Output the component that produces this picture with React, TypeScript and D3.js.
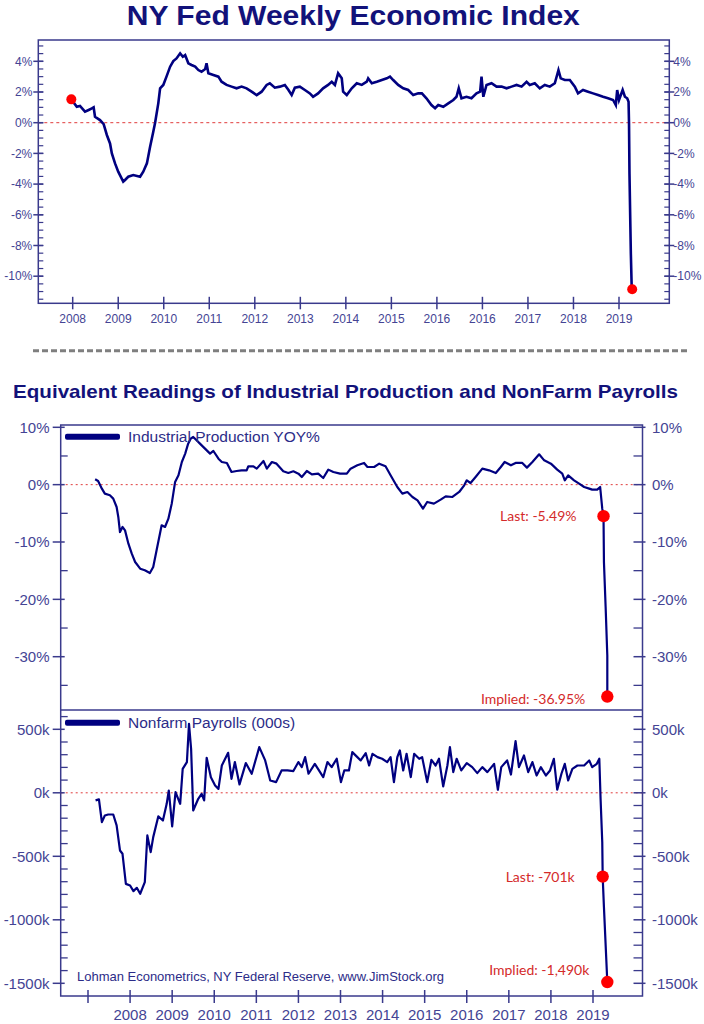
import React from "react";
import * as d3 from "d3";

// NY Fed Weekly Economic Index, [year, %]
const weiSeries: [number, number][] = [
  [2007.97, 1.52], [2008.09, 1.04], [2008.16, 1.09], [2008.27, 0.72], [2008.35, 0.83],
  [2008.42, 0.93], [2008.46, 1.0], [2008.49, 0.39], [2008.6, 0.17], [2008.68, -0.09],
  [2008.75, -0.8], [2008.82, -1.35], [2008.86, -2.0], [2008.93, -2.65], [2009.0, -3.19],
  [2009.11, -3.84], [2009.15, -3.73], [2009.22, -3.52], [2009.33, -3.41], [2009.48, -3.52],
  [2009.55, -3.19], [2009.63, -2.65], [2009.7, -1.56], [2009.77, -0.59], [2009.81, 0],
  [2009.88, 1.26], [2009.92, 2.24], [2009.99, 2.46], [2010.06, 3.0], [2010.14, 3.65],
  [2010.21, 4.02], [2010.28, 4.19], [2010.36, 4.52], [2010.42, 4.3], [2010.47, 4.41],
  [2010.54, 3.87], [2010.61, 3.76], [2010.69, 3.65], [2010.76, 3.43], [2010.83, 3.32],
  [2010.91, 3.5], [2010.94, 3.87], [2010.98, 3.22], [2011.09, 3.11], [2011.2, 3.0],
  [2011.27, 2.67], [2011.38, 2.46], [2011.49, 2.35], [2011.6, 2.24], [2011.71, 2.35],
  [2011.82, 2.24], [2011.93, 2.02], [2012.04, 1.8], [2012.15, 2.02], [2012.26, 2.46],
  [2012.33, 2.57], [2012.44, 2.28], [2012.55, 2.35], [2012.66, 2.46], [2012.74, 2.13],
  [2012.81, 1.8], [2012.88, 2.28], [2012.99, 2.35], [2013.1, 2.13], [2013.21, 1.91],
  [2013.28, 1.69], [2013.39, 1.91], [2013.5, 2.24], [2013.61, 2.46], [2013.69, 2.67],
  [2013.76, 2.46], [2013.83, 3.22], [2013.91, 2.89], [2013.94, 2.02], [2014.02, 1.8],
  [2014.13, 2.24], [2014.24, 2.57], [2014.35, 2.46], [2014.46, 2.67], [2014.49, 2.89],
  [2014.57, 2.57], [2014.68, 2.67], [2014.79, 2.78], [2014.9, 2.89], [2014.97, 3.0],
  [2015.04, 2.78], [2015.15, 2.46], [2015.26, 2.24], [2015.37, 2.13], [2015.48, 1.8],
  [2015.59, 1.91], [2015.67, 1.91], [2015.77, 1.59], [2015.88, 1.15], [2015.96, 0.94],
  [2016.03, 1.15], [2016.14, 1.04], [2016.25, 1.26], [2016.36, 1.48], [2016.43, 1.69],
  [2016.48, 2.24], [2016.54, 1.59], [2016.65, 1.69], [2016.76, 1.59], [2016.87, 1.91],
  [2016.95, 2.02], [2016.98, 3.0], [2017.02, 1.69], [2017.09, 2.46], [2017.2, 2.57],
  [2017.31, 2.35], [2017.42, 2.35], [2017.53, 2.24], [2017.64, 2.35], [2017.75, 2.46],
  [2017.86, 2.35], [2017.97, 2.67], [2018.04, 2.46], [2018.15, 2.57], [2018.26, 2.24],
  [2018.37, 2.46], [2018.48, 2.35], [2018.59, 2.57], [2018.67, 3.43], [2018.72, 2.89],
  [2018.81, 2.78], [2018.92, 2.78], [2019.03, 2.35], [2019.1, 1.91], [2019.21, 2.13],
  [2019.32, 2.02], [2019.43, 1.91], [2019.54, 1.8], [2019.65, 1.69], [2019.76, 1.59],
  [2019.87, 1.48], [2019.93, 1.15], [2019.96, 2.13], [2020.0, 1.48], [2020.08, 2.13],
  [2020.13, 1.69], [2020.18, 1.59], [2020.21, 1.37], [2020.22, -0.04], [2020.23, -3.3],
  [2020.25, -6.8], [2020.26, -8.5], [2020.28, -10.85],
];
const weiDots: [number, number][] = [
  [2007.97, 1.52],
  [2020.29, -10.85],
];
const weiYTicks = [4, 2, 0, -2, -4, -6, -8, -10];
const weiXTicks = [2008, 2009, 2010, 2011, 2012, 2013, 2014, 2015, 2016, 2017, 2018, 2019, 2020];
const weiXLabels = ["2008", "2009", "2010", "2011", "2012", "2013", "2014", "2015", "2016", "2016", "2017", "2018", "2019"];

// Industrial Production YOY%, [year, %]
const ipSeries: [number, number][] = [
  [2007.17, 0.93], [2007.24, 0.64], [2007.33, -0.7], [2007.4, -1.57], [2007.52, -1.86],
  [2007.6, -2.44], [2007.68, -3.9], [2007.72, -5.64], [2007.76, -8.26], [2007.82, -7.38],
  [2007.88, -7.97], [2007.96, -10.29], [2008.04, -12.03], [2008.12, -13.49], [2008.24, -14.65],
  [2008.35, -14.94], [2008.47, -15.41], [2008.55, -14.36], [2008.63, -11.45], [2008.75, -7.09],
  [2008.83, -7.38], [2008.91, -5.93], [2008.99, -3.31], [2009.07, 0.47], [2009.15, 1.63],
  [2009.23, 3.95], [2009.31, 5.41], [2009.38, 7.15], [2009.44, 8.02], [2009.5, 8.31],
  [2009.58, 7.73], [2009.66, 7.15], [2009.78, 6.28], [2009.9, 5.41], [2009.98, 5.87],
  [2010.1, 4.53], [2010.18, 3.95], [2010.3, 3.78], [2010.41, 2.21], [2010.53, 2.38],
  [2010.65, 2.5], [2010.77, 2.5], [2010.81, 3.2], [2010.93, 3.2], [2011.01, 2.79],
  [2011.17, 4.13], [2011.25, 2.79], [2011.37, 3.95], [2011.48, 3.66], [2011.64, 2.33],
  [2011.76, 2.03], [2011.88, 2.33], [2012.0, 1.92], [2012.08, 1.34], [2012.2, 2.38],
  [2012.32, 1.8], [2012.47, 1.92], [2012.59, 1.16], [2012.71, 2.62], [2012.83, 2.21],
  [2012.99, 1.92], [2013.15, 1.92], [2013.24, 2.79], [2013.4, 3.37], [2013.56, 3.78],
  [2013.64, 3.08], [2013.8, 3.08], [2013.92, 3.66], [2014.07, 3.2], [2014.19, 1.63],
  [2014.35, -0.41], [2014.47, -1.57], [2014.59, -1.28], [2014.71, -2.15], [2014.83, -2.73],
  [2014.96, -4.19], [2015.06, -3.02], [2015.22, -3.31], [2015.38, -2.62], [2015.5, -2.03],
  [2015.66, -2.15], [2015.82, -1.28], [2015.94, -0.12], [2016.0, 0.76], [2016.09, 0.29],
  [2016.21, 1.34], [2016.37, 2.79], [2016.53, 2.5], [2016.69, 2.03], [2016.81, 3.08],
  [2016.9, 3.95], [2017.05, 3.37], [2017.16, 3.78], [2017.32, 3.78], [2017.43, 2.97],
  [2017.56, 3.95], [2017.72, 5.29], [2017.84, 4.24], [2018.0, 3.66], [2018.15, 2.62],
  [2018.27, 1.92], [2018.33, 0.76], [2018.41, 1.63], [2018.55, 0.76], [2018.67, 0.17],
  [2018.79, -0.41], [2018.91, -0.7], [2018.98, -0.87], [2019.1, -0.87], [2019.17, -0.41],
  [2019.22, -4.19], [2019.25, -5.49], [2019.26, -13.49], [2019.3, -21.3], [2019.34, -29.8],
  [2019.34, -36.95],
];
const ipDots = [
  { year: 2019.25, value: -5.49, label: "Last: -5.49%" },
  { year: 2019.34, value: -36.95, label: "Implied: -36.95%" },
];
const ipYTicks = [10, 0, -10, -20, -30];

// Nonfarm Payrolls, [year, thousands]
const nfpSeries: [number, number][] = [
  [2007.18, -60], [2007.26, -52], [2007.33, -231], [2007.4, -179], [2007.48, -171],
  [2007.6, -171], [2007.68, -257], [2007.76, -454], [2007.82, -480], [2007.9, -717],
  [2008.0, -730], [2008.08, -774], [2008.16, -748], [2008.24, -795], [2008.35, -704],
  [2008.41, -336], [2008.49, -467], [2008.55, -349], [2008.67, -186], [2008.78, -218],
  [2008.87, -87], [2008.92, 18], [2009.0, -265], [2009.08, 5], [2009.19, -87],
  [2009.25, 189], [2009.35, 242], [2009.4, 543], [2009.45, 347], [2009.5, -139],
  [2009.62, -47], [2009.7, -8], [2009.76, -60], [2009.82, 276], [2009.92, 123],
  [2010.02, 58], [2010.1, 31], [2010.18, 215], [2010.33, 315], [2010.41, 110],
  [2010.49, 242], [2010.6, 66], [2010.75, 234], [2010.89, 150], [2011.07, 360],
  [2011.21, 255], [2011.33, 97], [2011.47, 84], [2011.6, 176], [2011.74, 176],
  [2011.88, 171], [2012.0, 242], [2012.08, 202], [2012.16, 281], [2012.24, 150],
  [2012.39, 228], [2012.59, 123], [2012.69, 242], [2012.79, 202], [2012.91, 268],
  [2013.01, 84], [2013.09, 176], [2013.2, 176], [2013.28, 320], [2013.4, 281],
  [2013.48, 255], [2013.6, 312], [2013.68, 215], [2013.76, 307], [2013.88, 281],
  [2013.99, 268], [2014.11, 242], [2014.19, 281], [2014.27, 84], [2014.35, 281],
  [2014.41, 333], [2014.49, 176], [2014.57, 307], [2014.67, 123], [2014.75, 307],
  [2014.87, 268], [2014.94, 281], [2015.06, 84], [2015.16, 260], [2015.26, 215],
  [2015.34, 268], [2015.44, 50], [2015.54, 215], [2015.6, 360], [2015.68, 163],
  [2015.76, 268], [2015.87, 176], [2016.0, 234], [2016.13, 202], [2016.25, 155],
  [2016.37, 202], [2016.49, 163], [2016.65, 228], [2016.74, 24], [2016.82, 202],
  [2016.96, 255], [2017.05, 144], [2017.16, 407], [2017.24, 202], [2017.36, 294],
  [2017.46, 163], [2017.56, 242], [2017.66, 136], [2017.76, 202], [2017.88, 136],
  [2017.98, 176], [2018.07, 268], [2018.15, 24], [2018.25, 150], [2018.33, 228],
  [2018.41, 97], [2018.51, 189], [2018.63, 215], [2018.79, 215], [2018.91, 255],
  [2018.98, 202], [2019.09, 228], [2019.15, 268], [2019.18, -47], [2019.22, -388],
  [2019.23, -660], [2019.26, -900], [2019.34, -1490],
];
const nfpDots = [
  { year: 2019.23, value: -660, label: "Last: -701k" },
  { year: 2019.34, value: -1490, label: "Implied: -1,490k" },
];
const nfpYTicks = [500, 0, -500, -1000, -1500];

const panelXTicks = [2007, 2008, 2009, 2010, 2011, 2012, 2013, 2014, 2015, 2016, 2017, 2018, 2019];
const panelXLabels = ["", "2008", "2009", "2010", "2011", "2012", "2013", "2014", "2015", "2016", "2017", "2018", "2019"];

const NAVY = "#000080";
const AXIS = "#3a3a8c";
const TICK_TEXT = "#444494";
const RED_LINE = "#e03c3c";
const RED_TEXT = "#d42a2a";
const FONT = "'Liberation Sans', Arial, sans-serif";

export default function App() {
  // top chart geometry
  const top = { left: 38.3, right: 669.3, top: 40, bottom: 303.3 };
  const xTop = d3.scaleLinear().domain([2008, 2020]).range([72.7, 619]);
  const yTop = d3.scaleLinear().domain([-10, 4]).range([276.2, 61.3]);
  const topMinor = d3.range(-11.5, 5.01, 0.5).filter((v) => yTop(v) <= top.bottom && yTop(v) >= top.top);

  // lower panels
  const pn = { left: 60.7, right: 642.5, top: 425, mid: 710, bottom: 996 };
  const xP = d3.scaleLinear().domain([2007, 2019]).range([88, 593]);
  const yIp = d3.scaleLinear().domain([-30, 10]).range([656.7, 427.3]);
  const yNfp = d3.scaleLinear().domain([-1500, 500]).range([983.3, 729.3]);
  const ipMinor = d3.range(-35, 10.01, 5).filter((v) => !ipYTicks.includes(v));
  const nfpMinor = d3.range(-1500, 600.01, 100).filter((v) => !nfpYTicks.includes(v));

  const weiLine = d3.line<[number, number]>().x((d) => xTop(d[0])).y((d) => yTop(d[1]));
  const ipLine = d3.line<[number, number]>().x((d) => xP(d[0])).y((d) => yIp(d[1]));
  const nfpLine = d3.line<[number, number]>().x((d) => xP(d[0])).y((d) => yNfp(d[1]));

  const fmtK = (v: number) => `${v}k`;

  return (
    <div style={{ position: "absolute", left: 0, top: 0 }}>
      <svg width={704} height={1024} style={{ display: "block", background: "#fff" }} fontFamily={FONT}>
        {/* Top title */}
        <text x={353.3} y={25} textAnchor="middle" fontSize={28} fontWeight="bold" fill="#12127a"
          textLength={453} lengthAdjust="spacingAndGlyphs">
          NY Fed Weekly Economic Index
        </text>

        {/* Top chart frame */}
        <rect x={top.left} y={top.top} width={top.right - top.left} height={top.bottom - top.top}
          fill="none" stroke={AXIS} strokeWidth={1.5} />
        <line x1={top.left} x2={top.right} y1={yTop(0)} y2={yTop(0)} stroke={RED_LINE} strokeWidth={1} strokeDasharray="3 3" />

        {topMinor.map((v) => (
          <g key={`tm${v}`}>
            <line x1={top.left} x2={top.left + 5} y1={yTop(v)} y2={yTop(v)} stroke={AXIS} strokeWidth={1.2} />
            <line x1={top.right - 5} x2={top.right} y1={yTop(v)} y2={yTop(v)} stroke={AXIS} strokeWidth={1.2} />
          </g>
        ))}
        {weiYTicks.map((v) => (
          <g key={`ty${v}`}>
            <line x1={top.left - 5} x2={top.left + 5} y1={yTop(v)} y2={yTop(v)} stroke={AXIS} strokeWidth={1.5} />
            <line x1={top.right - 5} x2={top.right + 5} y1={yTop(v)} y2={yTop(v)} stroke={AXIS} strokeWidth={1.5} />
            <text x={top.left - 6} y={yTop(v)} dy="0.35em" textAnchor="end" fontSize={12} fill={TICK_TEXT}>{`${v}%`}</text>
            <text x={top.right + 4} y={yTop(v)} dy="0.35em" textAnchor="start" fontSize={12} fill={TICK_TEXT}>{`${v}%`}</text>
          </g>
        ))}
        {weiXTicks.map((t, i) => (
          <g key={`tx${t}`}>
            <line x1={xTop(t)} x2={xTop(t)} y1={top.bottom - 6.5} y2={top.bottom + 6} stroke={AXIS} strokeWidth={1.5} />
            <text x={xTop(t)} y={top.bottom + 20} textAnchor="middle" fontSize={12} fill={TICK_TEXT}>{weiXLabels[i]}</text>
          </g>
        ))}
        <path d={weiLine(weiSeries) || ""} fill="none" stroke={NAVY} strokeWidth={2.6} strokeLinejoin="miter" />
        {weiDots.map((d, i) => (
          <circle key={`wd${i}`} cx={xTop(d[0])} cy={yTop(d[1])} r={5} fill="#ff0000" />
        ))}

        {/* Separator */}
        <line x1={33} x2={690} y1={350.7} y2={350.7} stroke="#7f7f7f" strokeWidth={3} strokeDasharray="6 3" />

        {/* Second title */}
        <text x={345.5} y={398} textAnchor="middle" fontSize={19} fontWeight="bold" fill="#12127a"
          textLength={665} lengthAdjust="spacingAndGlyphs">
          Equivalent Readings of Industrial Production and NonFarm Payrolls
        </text>

        {/* Panel frames */}
        <rect x={pn.left} y={pn.top} width={pn.right - pn.left} height={pn.bottom - pn.top}
          fill="none" stroke={AXIS} strokeWidth={1.5} />
        <line x1={pn.left} x2={pn.right} y1={pn.mid} y2={pn.mid} stroke={AXIS} strokeWidth={1.5} />

        {/* IP panel */}
        <line x1={pn.left} x2={pn.right} y1={yIp(0)} y2={yIp(0)} stroke={RED_LINE} strokeWidth={1} strokeDasharray="2 3" />
        {ipMinor.map((v) => (
          <g key={`im${v}`}>
            <line x1={pn.left} x2={pn.left + 7} y1={yIp(v)} y2={yIp(v)} stroke={AXIS} strokeWidth={1.3} />
            <line x1={pn.right - 9} x2={pn.right} y1={yIp(v)} y2={yIp(v)} stroke={AXIS} strokeWidth={1.3} />
          </g>
        ))}
        {ipYTicks.map((v) => (
          <g key={`iy${v}`}>
            <line x1={pn.left - 8} x2={pn.left + 4} y1={yIp(v)} y2={yIp(v)} stroke={AXIS} strokeWidth={1.5} />
            <line x1={pn.right - 9} x2={pn.right + 3} y1={yIp(v)} y2={yIp(v)} stroke={AXIS} strokeWidth={1.5} />
            <text x={49.5} y={yIp(v)} dy="0.36em" textAnchor="end" fontSize={15} fill={TICK_TEXT}>{`${v}%`}</text>
            <text x={652} y={yIp(v)} dy="0.36em" textAnchor="start" fontSize={15} fill={TICK_TEXT}>{`${v}%`}</text>
          </g>
        ))}
        <path d={ipLine(ipSeries) || ""} fill="none" stroke={NAVY} strokeWidth={2.2} strokeLinejoin="round" />
        <rect x={65} y={433.7} width={55} height={6} rx={2} fill={NAVY} />
        <text x={128} y={442} fontSize={15.5} fill="#2c2c88">Industrial Production YOY%</text>

        {/* NFP panel */}
        <line x1={pn.left} x2={pn.right} y1={yNfp(0)} y2={yNfp(0)} stroke={RED_LINE} strokeWidth={1} strokeDasharray="2 3" />
        {nfpMinor.map((v) => (
          <g key={`nm${v}`}>
            <line x1={pn.left} x2={pn.left + 7} y1={yNfp(v)} y2={yNfp(v)} stroke={AXIS} strokeWidth={1.3} />
            <line x1={pn.right - 9} x2={pn.right} y1={yNfp(v)} y2={yNfp(v)} stroke={AXIS} strokeWidth={1.3} />
          </g>
        ))}
        {nfpYTicks.map((v) => (
          <g key={`ny${v}`}>
            <line x1={pn.left - 8} x2={pn.left + 4} y1={yNfp(v)} y2={yNfp(v)} stroke={AXIS} strokeWidth={1.5} />
            <line x1={pn.right - 9} x2={pn.right + 3} y1={yNfp(v)} y2={yNfp(v)} stroke={AXIS} strokeWidth={1.5} />
            <text x={49.5} y={yNfp(v)} dy="0.36em" textAnchor="end" fontSize={15} fill={TICK_TEXT}>{fmtK(v)}</text>
            <text x={652} y={yNfp(v)} dy="0.36em" textAnchor="start" fontSize={15} fill={TICK_TEXT}>{fmtK(v)}</text>
          </g>
        ))}
        {panelXTicks.map((t, i) => (
          <g key={`px${t}`}>
            <line x1={xP(t)} x2={xP(t)} y1={pn.bottom - 6} y2={pn.bottom + 7} stroke={AXIS} strokeWidth={1.5} />
            <text x={xP(t)} y={1020} textAnchor="middle" fontSize={15} fill={TICK_TEXT}>{panelXLabels[i]}</text>
          </g>
        ))}
        <path d={nfpLine(nfpSeries) || ""} fill="none" stroke={NAVY} strokeWidth={2.2} strokeLinejoin="round" />
        <rect x={65} y={719.7} width={55} height={6} rx={2} fill={NAVY} />
        <text x={128} y={728} fontSize={15.5} fill="#2c2c88">Nonfarm Payrolls (000s)</text>

        <text x={77} y={981} fontSize={13} fill="#2c2c88" textLength={367} lengthAdjust="spacingAndGlyphs">
          Lohman Econometrics, NY Federal Reserve, www.JimStock.org
        </text>

        {/* Annotations */}
        <g fontFamily="Lato, 'Open Sans', sans-serif" fontSize={14} fill={RED_TEXT}>
          <text x={xP(ipDots[0].year) - 27} y={yIp(ipDots[0].value) + 5} textAnchor="end">{ipDots[0].label}</text>
          <text x={xP(ipDots[1].year) - 22} y={yIp(ipDots[1].value) + 7} textAnchor="end">{ipDots[1].label}</text>
          <text x={xP(nfpDots[0].year) - 28} y={yNfp(nfpDots[0].value) + 5} textAnchor="end">{nfpDots[0].label}</text>
          <text x={xP(nfpDots[1].year) - 18} y={yNfp(nfpDots[1].value) - 7} textAnchor="end">{nfpDots[1].label}</text>
        </g>
        {[...ipDots.map((d) => [xP(d.year), yIp(d.value)]), ...nfpDots.map((d) => [xP(d.year), yNfp(d.value)])].map((p, i) => (
          <circle key={`pd${i}`} cx={p[0]} cy={p[1]} r={6.2} fill="#ff0000" />
        ))}
      </svg>
    </div>
  );
}
